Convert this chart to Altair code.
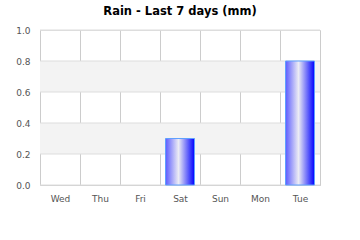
import altair as alt
import pandas as pd

days = ["Wed", "Thu", "Fri", "Sat", "Sun", "Mon", "Tue"]
rain = [0.0, 0.0, 0.0, 0.3, 0.0, 0.0, 0.8]
band_start = [0.2, 0.6]
band_end = [0.4, 0.8]
y_ticks = [0.0, 0.2, 0.4, 0.6, 0.8, 1.0]

df = pd.DataFrame({"day": days, "rain": rain})
bands = pd.DataFrame({"y0": band_start, "y1": band_end})
grid = pd.DataFrame({"v": y_ticks})

yscale = alt.Scale(domain=[0, 1], nice=False)
xscale = alt.Scale(domain=days, paddingInner=0, paddingOuter=0)

yaxis = alt.Axis(
    title=None, values=y_ticks, format=".1f", grid=False,
    ticks=False, domain=False, labelOverlap=False,
    labelColor="#555555", labelFontSize=9, labelFont="DejaVu Sans",
    labelPadding=10,
)

band_layer = alt.Chart(bands).mark_rect(color="#f3f3f3").encode(
    y=alt.Y("y0:Q", scale=yscale, axis=yaxis),
    y2="y1:Q",
    x=alt.value(0),
    x2=alt.value(280),
)

grid_layer = alt.Chart(grid).mark_rule(color="#dddddd", strokeWidth=1).encode(
    y=alt.Y("v:Q", scale=yscale, axis=yaxis),
    x=alt.value(0),
    x2=alt.value(280),
)

grad = alt.Gradient(
    gradient="linear",
    x1=0, x2=1, y1=0, y2=0,
    stops=[
        alt.GradientStop(offset=0, color="#5c5cff"),
        alt.GradientStop(offset=0.45, color="#ececf4"),
        alt.GradientStop(offset=1, color="#0000ff"),
    ],
)

bars = alt.Chart(df).transform_filter("datum.rain > 0").mark_bar(
    color=grad, stroke="#5fa0ff", strokeWidth=1, size=29
).encode(
    x=alt.X(
        "day:N",
        scale=xscale,
        sort=days,
        axis=alt.Axis(
            title=None, labelAngle=0, tickBand="extent", grid=True,
            gridColor="#cccccc", ticks=False, domainColor="#cccccc",
            labelColor="#555555", labelFontSize=9, labelFont="DejaVu Sans",
            labelPadding=9,
        ),
    ),
    y=alt.Y("rain:Q", scale=yscale, axis=yaxis),
)

chart = alt.layer(band_layer, grid_layer, bars).properties(
    width=280,
    height=155,
    autosize=alt.AutoSizeParams(type="none"),
    padding={"left": 40, "top": 30, "right": 40, "bottom": 55},
    title=alt.TitleParams(
        "Rain - Last 7 days (mm)", fontSize=11.5, font="DejaVu Sans",
        fontWeight="bold", color="#000000", offset=9,
    ),
).configure_view(stroke=None).configure(background="white")

chart.save("out.html", embed_options={"renderer": "svg", "actions": False})
